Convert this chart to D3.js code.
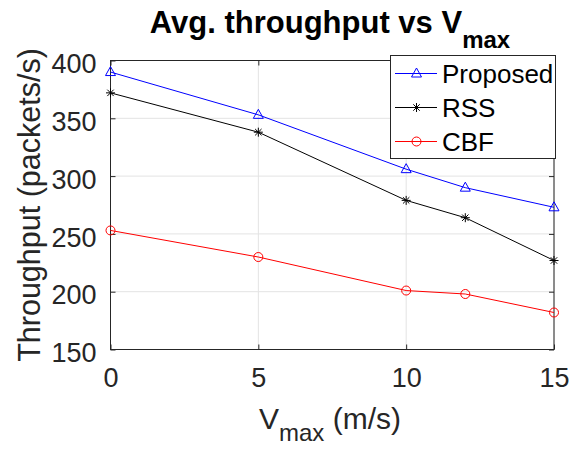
<!DOCTYPE html>
<html>
<head>
<meta charset="utf-8">
<script src="https://cdn.jsdelivr.net/npm/d3@7"></script>
<style>
  html, body { margin: 0; padding: 0; background: #fff; }
  svg { display: block; font-family: "Liberation Sans", Arial, Helvetica, sans-serif; }
</style>
</head>
<body>
<svg id="chart" width="579" height="449"></svg>
<script>
// Maximum node speed (m/s)
const vmax = [0, 5, 10, 12, 15];
// Average throughput (packets/s) per scheme
const proposed = [390, 353, 306, 290, 273];
const rss      = [372, 338, 279, 264, 227];
const cbf      = [253, 230, 201, 198, 182];
const seriesNames = ["Proposed", "RSS", "CBF"];
const xTicks = [0, 5, 10, 15];
const yTicks = [150, 200, 250, 300, 350, 400];

const svg = d3.select("#chart");
const plot = { left: 110.5, right: 554, top: 60.5, bottom: 349.5 };
const axisColor = "#262626";
const gridColor = "#e3e3e3";

const x = d3.scaleLinear().domain([0, 15]).range([plot.left, plot.right]);
const y = d3.scaleLinear().domain([150, 400]).range([plot.bottom, plot.top]);

// grid
const grid = svg.append("g");
grid.selectAll("line.gx").data(xTicks).join("line")
  .attr("x1", d => x(d)).attr("x2", d => x(d))
  .attr("y1", plot.top).attr("y2", plot.bottom)
  .attr("stroke", gridColor).attr("stroke-width", 1);
grid.selectAll("line.gy").data(yTicks).join("line")
  .attr("y1", d => y(d)).attr("y2", d => y(d))
  .attr("x1", plot.left).attr("x2", plot.right)
  .attr("stroke", gridColor).attr("stroke-width", 1);

// axes (ticks point inward, box on)
const tickLen = 5;
const tickFont = 27;
const xAxis = d3.axisBottom(x).tickValues(xTicks).tickSizeInner(-tickLen).tickSizeOuter(0).tickPadding(18);
const yAxis = d3.axisLeft(y).tickValues(yTicks).tickSizeInner(-tickLen).tickSizeOuter(0).tickPadding(14);
const xTop = d3.axisTop(x).tickValues(xTicks).tickSizeInner(-tickLen).tickSizeOuter(0).tickFormat("");
const yRight = d3.axisRight(y).tickValues(yTicks).tickSizeInner(-tickLen).tickSizeOuter(0).tickFormat("");

function styleAxis(g) {
  g.select(".domain").remove();
  g.selectAll(".tick line").attr("stroke", axisColor);
  g.selectAll(".tick text").attr("fill", axisColor)
    .style("font-size", tickFont + "px").style("font-family", "Liberation Sans, Arial, sans-serif");
}
svg.append("g").attr("transform", `translate(0,${plot.bottom})`).call(xAxis).call(styleAxis);
svg.append("g").attr("transform", `translate(${plot.left},0)`).call(yAxis).call(styleAxis)
  .selectAll(".tick text").attr("dy", "0.45em");
svg.append("g").attr("transform", `translate(0,${plot.top})`).call(xTop).call(styleAxis);
svg.append("g").attr("transform", `translate(${plot.right},0)`).call(yRight).call(styleAxis);

// box
svg.append("rect")
  .attr("x", plot.left).attr("y", plot.top)
  .attr("width", plot.right - plot.left).attr("height", plot.bottom - plot.top)
  .attr("fill", "none").attr("stroke", axisColor).attr("stroke-width", 1);

// markers
function drawMarker(g, kind, color) {
  if (kind === "tri") {
    g.append("path").attr("d", "M0,-5.5L5,3.5L-5,3.5Z")
      .attr("fill", "none").attr("stroke", color).attr("stroke-width", 1);
  } else if (kind === "star") {
    g.append("path").attr("d", "M-4.5,0H4.5M0,-4.5V4.5M-3.2,-3.2L3.2,3.2M-3.2,3.2L3.2,-3.2")
      .attr("fill", "none").attr("stroke", color).attr("stroke-width", 1);
  } else {
    g.append("circle").attr("r", 4.5)
      .attr("fill", "none").attr("stroke", color).attr("stroke-width", 1);
  }
}

const series = [
  { name: seriesNames[0], values: proposed, color: "#0000ff", marker: "tri" },
  { name: seriesNames[1], values: rss,      color: "#000000", marker: "star" },
  { name: seriesNames[2], values: cbf,      color: "#ff0000", marker: "circle" }
];

const line = d3.line().x(d => x(d[0])).y(d => y(d[1]));
series.forEach(s => {
  const pts = vmax.map((v, i) => [v, s.values[i]]);
  svg.append("path").datum(pts).attr("d", line)
    .attr("fill", "none").attr("stroke", s.color).attr("stroke-width", 1);
  svg.append("g").selectAll("g").data(pts).join("g")
    .attr("transform", d => `translate(${x(d[0])},${y(d[1])})`)
    .each(function () { drawMarker(d3.select(this), s.marker, s.color); });
});

// legend
const leg = svg.append("g");
leg.append("rect").attr("x", 390.5).attr("y", 55.5).attr("width", 165).attr("height", 103)
  .attr("fill", "#fff").attr("stroke", axisColor).attr("stroke-width", 1);
series.forEach((s, i) => {
  const cy = 73.5 + i * 34;
  leg.append("line").attr("x1", 395).attr("x2", 437).attr("y1", cy).attr("y2", cy)
    .attr("stroke", s.color).attr("stroke-width", 1);
  drawMarker(leg.append("g").attr("transform", `translate(416.5,${cy})`), s.marker, s.color);
  leg.append("text").attr("x", 442).attr("y", cy + 9.5)
    .attr("fill", "#000").style("font-size", "26px").text(s.name);
});

// title
const title = svg.append("text").attr("x", 330).attr("y", 33)
  .attr("text-anchor", "middle").attr("fill", "#000")
  .style("font-size", "31px").style("font-weight", "bold");
title.append("tspan").text("Avg. throughput vs V");
title.append("tspan").attr("dy", 15).style("font-size", "24px").text("max");

// axis labels
const xl = svg.append("text").attr("x", 330).attr("y", 429)
  .attr("text-anchor", "middle").attr("fill", axisColor).style("font-size", "30px");
xl.append("tspan").text("V");
xl.append("tspan").attr("dy", 12).style("font-size", "24px").text("max");
xl.append("tspan").attr("dy", -12).text(" (m/s)");

svg.append("text")
  .attr("transform", `translate(40,${(plot.top + plot.bottom) / 2}) rotate(-90)`)
  .attr("text-anchor", "middle").attr("fill", axisColor).style("font-size", "30.5px")
  .text("Throughput (packets/s)");
</script>
</body>
</html>
